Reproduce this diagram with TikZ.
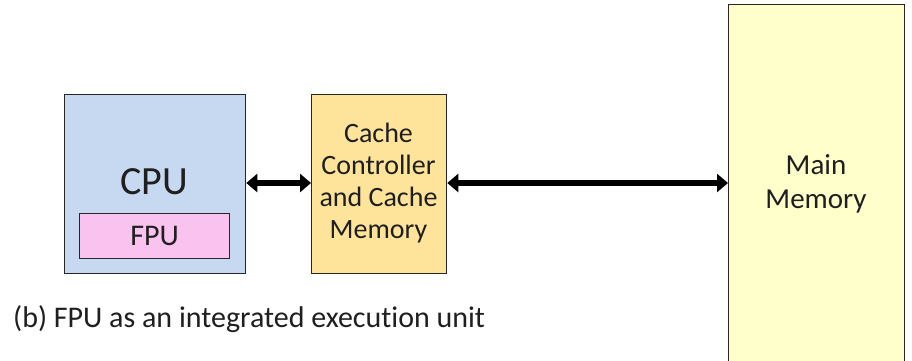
\documentclass[tikz,border=0pt]{standalone}
\usepackage{fontspec}
\setmainfont{Carlito}[Ligatures=NoCommon]
\usetikzlibrary{arrows.meta}
\definecolor{cpublue}{HTML}{C6D9F1}
\definecolor{fpupink}{HTML}{FAC3EF}
\definecolor{cacheorange}{HTML}{FEE39A}
\definecolor{memyellow}{HTML}{FFFFCC}
\definecolor{edge}{HTML}{262626}
\tikzset{
  block/.style={draw=edge, line width=1.3pt, inner sep=0pt, anchor=north west},
  label/.style={inner sep=0pt, align=center, text=black!88},
  bus/.style={line width=5.5pt, {Triangle[length=11pt,width=18pt]}-{Triangle[length=11pt,width=18pt]}}
}
\begin{document}
\begin{tikzpicture}[x=1pt,y=-1pt]
\useasboundingbox (0,0) rectangle (912,361);
% processor with its on-chip floating-point unit
\node[block, fill=cpublue, minimum width=181pt, minimum height=179pt] (cpu) at (64,94) {};
\node[label, font=\fontsize{40}{44}\selectfont] (cputxt) at (154,182) {CPU};
\node[block, fill=fpupink, minimum width=150pt, minimum height=45pt] (fpu) at (79,213) {};
\node[label, font=\fontsize{30}{34}\selectfont] at (fpu.center) {FPU};
% cache
\node[block, fill=cacheorange, minimum width=135pt, minimum height=179pt] (cache) at (311,94) {};
\node[label, font=\fontsize{28}{32}\selectfont] at (378.5,183) {Cache\\Controller\\and Cache\\Memory};
% main memory, running off the bottom edge
\node[block, fill=memyellow, minimum width=176pt, minimum height=370pt] (mem) at (728,4) {};
\node[label, font=\fontsize{29}{34}\selectfont] at (816,184) {Main\\Memory};
% buses
\draw[bus] (cpu.east |- 0,183) -- (cache.west |- 0,183);
\draw[bus] (cache.east |- 0,183) -- (mem.west |- 0,183);
% caption
\node[label, anchor=base west, font=\fontsize{30}{34}\selectfont] (cap) at (13,327) {(b) FPU as an integrated execution unit};
\end{tikzpicture}
\end{document}
